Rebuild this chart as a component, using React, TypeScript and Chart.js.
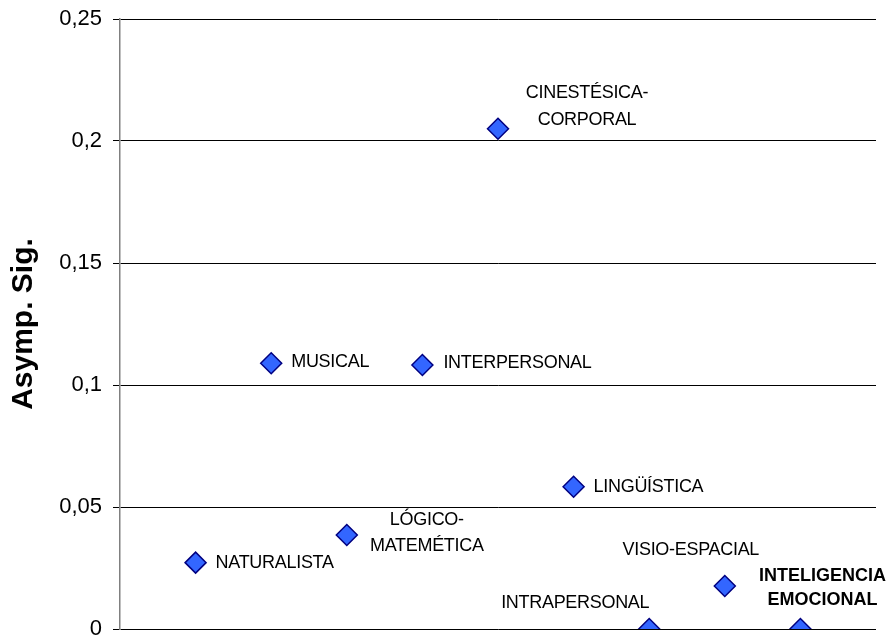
import React, { useEffect, useRef } from "react";
import { Chart, registerables } from "chart.js";

Chart.register(...registerables);

// ---- data ----
const categories = [
  "NATURALISTA",
  "MUSICAL",
  "LÓGICO-MATEMÉTICA",
  "INTERPERSONAL",
  "CINESTÉSICA-CORPORAL",
  "LINGÜÍSTICA",
  "INTRAPERSONAL",
  "VISIO-ESPACIAL",
  "INTELIGENCIA EMOCIONAL",
];
const categoryIndex = [1, 2, 3, 4, 5, 6, 7, 8, 9];
const asympSig = [0.0272, 0.1089, 0.0385, 0.1082, 0.205, 0.0583, 0, 0.0176, 0];
const labelLines = [
  ["NATURALISTA"],
  ["MUSICAL"],
  ["LÓGICO-", "MATEMÉTICA"],
  ["INTERPERSONAL"],
  ["CINESTÉSICA-", "CORPORAL"],
  ["LINGÜÍSTICA"],
  ["INTRAPERSONAL"],
  ["VISIO-ESPACIAL"],
  ["INTELIGENCIA", "EMOCIONAL"],
];
const yTicks = [0, 0.05, 0.1, 0.15, 0.2, 0.25];
const yTickLabels = ["0", "0,05", "0,1", "0,15", "0,2", "0,25"];
const yTitle = "Asymp. Sig.";

// ---- label placement (style) ----
type Place = { dx: number; dy: number[]; align: CanvasTextAlign; bold?: boolean };
const labelPlacement: Place[] = [
  { dx: 20, dy: [0], align: "left" },
  { dx: 20, dy: [-1], align: "left" },
  { dx: 80, dy: [-15, 11], align: "center" },
  { dx: 21, dy: [-2], align: "left" },
  { dx: 89, dy: [-36, -9], align: "center" },
  { dx: 20, dy: [0], align: "left" },
  { dx: -74, dy: [-26], align: "center" },
  { dx: -34, dy: [-36], align: "center" },
  { dx: 22, dy: [-53, -29], align: "center", bold: true },
];

const pointLabelsPlugin = {
  id: "pointLabels",
  afterDatasetsDraw(chart: any) {
    const ctx: CanvasRenderingContext2D = chart.ctx;
    const meta = chart.getDatasetMeta(0);
    ctx.save();
    ctx.fillStyle = "#000";
    ctx.textBaseline = "middle";
    meta.data.forEach((pt: any, i: number) => {
      const p = labelPlacement[i];
      const lines = labelLines[i];
      ctx.font = (p.bold ? "bold " : "") + "18px 'Liberation Sans', Arial, sans-serif";
      (ctx as any).letterSpacing = p.bold ? "0px" : "-0.3px";
      ctx.textAlign = p.align;
      lines.forEach((line, j) => {
        ctx.fillText(line, pt.x + p.dx, pt.y + p.dy[j]);
      });
    });
    ctx.restore();
  },
};

export default function App() {
  const ref = useRef<HTMLCanvasElement>(null);
  useEffect(() => {
    if (!ref.current) return;
    const chart = new Chart(ref.current, {
      type: "scatter",
      data: {
        datasets: [
          {
            label: yTitle,
            data: categoryIndex.map((x, i) => ({ x, y: asympSig[i] })),
            pointStyle: "rectRot",
            pointRadius: 10.5,
            pointHoverRadius: 10.5,
            backgroundColor: "#3366FF",
            borderColor: "#000080",
            borderWidth: 1.5,
          },
        ],
      },
      options: {
        animation: false,
        responsive: false,
        events: [],
        layout: { padding: { top: 19, bottom: 8, right: 15, left: 0 } },
        plugins: {
          legend: { display: false },
          tooltip: { enabled: false },
          title: { display: false },
        },
        scales: {
          x: {
            type: "linear",
            min: 0,
            max: 10,
            display: false,
          },
          y: {
            type: "linear",
            min: 0,
            max: 0.25,
            afterBuildTicks: (scale: any) => {
              scale.ticks = yTicks.map((v) => ({ value: v }));
            },
            afterFit: (scale: any) => {
              scale.width = 120;
              scale.paddingTop = 0;
              scale.paddingBottom = 0;
            },
            ticks: {
              color: "#000",
              padding: 11,
              font: { family: "'Liberation Sans', Arial, sans-serif", size: 22 },
              callback: (v: any) => {
                const idx = yTicks.findIndex((t) => Math.abs(t - Number(v)) < 1e-9);
                return idx >= 0 ? yTickLabels[idx] : "";
              },
            },
            grid: {
              color: "#000",
              lineWidth: 1,
              tickLength: 7,
              tickColor: "#000",
              drawTicks: true,
            },
            border: { display: true, color: "#808080", width: 1.5 },
            title: {
              display: true,
              text: yTitle,
              color: "#000",
              padding: { top: 6, bottom: 0 },
              font: { family: "'Liberation Sans', Arial, sans-serif", size: 30, weight: "bold" },
            },
          },
        },
      },
      plugins: [pointLabelsPlugin],
    });
    return () => chart.destroy();
  }, []);
  return (
    <div style={{ position: "fixed", left: 0, top: 0, width: 891, height: 639, overflow: "hidden", background: "#fff" }}>
      <canvas ref={ref} width={891} height={641} style={{ display: "block" }} />
    </div>
  );
}
